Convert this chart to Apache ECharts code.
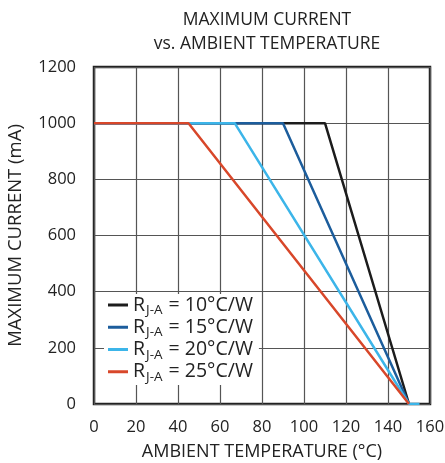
<!DOCTYPE html>
<html>
<head>
<meta charset="utf-8">
<script src="https://cdn.jsdelivr.net/npm/echarts@6/dist/echarts.min.js"></script>
<style>
	html, body { margin: 0; padding: 0; background: #fff; }
	#chart { width: 445px; height: 463px; }
</style>
</head>
<body>
<div id="chart"></div>
<script>
	// thermal resistance of each curve (°C/W)
	const rja = [10, 15, 20, 25];
	// temperature where each curve leaves 1000 mA
	const kneeTemp = [110, 90, 67, 45];
	const maxCurrent = 1000;
	const zeroTemp = 150;
	const tailTemp = 155;
	const xTicks = [0, 20, 40, 60, 80, 100, 120, 140, 160];
	const yTicks = [0, 200, 400, 600, 800, 1000, 1200];
	const colors = ['#1c1c1c', '#1c5d9c', '#3cb5e9', '#d8472a'];

	const font = '"Open Sans", "Noto Sans", sans-serif';
	const chart = echarts.init(document.getElementById('chart'));

	let series = [];
	for (let i = 0; i < rja.length; i++) {
		let pts = [[0, maxCurrent], [kneeTemp[i], maxCurrent], [zeroTemp, 0]];
		if (i == 2) pts.push([tailTemp, 0]);
		series.push({
			name: 'R' + rja[i],
			type: 'line',
			data: pts,
			symbol: 'none',
			lineStyle: { width: 2.5, color: colors[i] },
			itemStyle: { color: colors[i] },
			animation: false
		});
	}

	let option = {
		textStyle: { fontFamily: font },
		title: {
			text: 'MAXIMUM CURRENT\nvs. AMBIENT TEMPERATURE',
			left: 262,
			top: 3,
			textAlign: 'center',
			textStyle: { fontSize: 17.5, fontWeight: 'normal', color: '#222', lineHeight: 24, fontFamily: font }
		},
		grid: {
			left: 94, right: 15, top: 67, bottom: 59,
			outerBoundsMode: 'none',
			containLabel: false,
			show: true, borderColor: '#222', borderWidth: 2.5
		},
		legend: {
			left: 104, top: 294,
			orient: 'vertical',
			backgroundColor: '#fff',
			padding: [1, 6, 1, 4],
			itemGap: 0,
			itemWidth: 20,
			itemHeight: 3,
			icon: 'rect',
			data: series.map(s => s.name),
			formatter: function (name) {
				return '{a|R}{s|J-A}{a| = ' + name.slice(1) + '°C/W}';
			},
			textStyle: {
				color: '#222',
				rich: {
					a: { fontSize: 19.5, fontFamily: font, color: '#222', height: 24.5 },
					s: { fontSize: 13.5, fontFamily: font, color: '#222', verticalAlign: 'bottom', padding: [10, 1, 0, 1] }
				}
			}
		},
		xAxis: {
			type: 'value',
			min: 0, max: 160, interval: 20,
			name: 'AMBIENT TEMPERATURE (°C)',
			nameLocation: 'middle',
			nameGap: 39,
			nameTextStyle: { fontSize: 18, color: '#222', fontFamily: font },
			axisLine: { show: false },
			axisTick: { show: false },
			axisLabel: { fontSize: 16.5, color: '#222', margin: 15, formatter: v => String(v) },
			splitLine: { lineStyle: { color: '#555', width: 1.2 } }
		},
		yAxis: {
			type: 'value',
			min: 0, max: 1200, interval: 200,
			name: 'MAXIMUM CURRENT (mA)',
			nameLocation: 'middle',
			nameGap: 69,
			nameTextStyle: { fontSize: 18.5, color: '#222', fontFamily: font },
			axisLine: { show: false },
			axisTick: { show: false },
			axisLabel: { fontSize: 16.5, color: '#222', margin: 18, formatter: v => String(v) },
			splitLine: { lineStyle: { color: '#555', width: 1.2 } }
		},
		series: series
	};
	chart.setOption(option);
</script>
</body>
</html>
